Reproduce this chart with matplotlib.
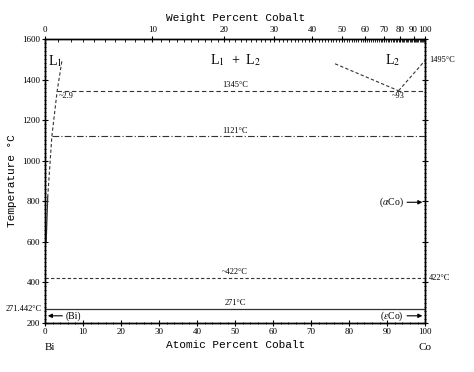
import numpy as np
import matplotlib
matplotlib.use('Agg')
import matplotlib.pyplot as plt
from matplotlib.ticker import MultipleLocator, FixedLocator

plt.rcParams['mathtext.fontset'] = 'stix'

# ---- Data (atomic % Co, temperature in C) ----
M_BI = 208.98
M_CO = 58.933

liq_l1_solid_x = [0.3, 0.7]
liq_l1_solid_t = [600, 820]
liq_l1_dash_x = [0.7, 1.8, 3.2, 4.5]
liq_l1_dash_t = [820, 1121, 1345, 1500]
gap_x = [76.3, 93.0]
gap_t = [1478, 1345]
liq_l2_x = [93.0, 100.0]
liq_l2_t = [1345, 1495]

monotectic_t = 1345
eutectic_t = 1121
co_trans_t = 422
bi_eut_t = 271

wt_ticks = [0, 10, 20, 30, 40, 50, 60, 70, 80, 90, 100]


def wt_to_at(w):
    w = np.asarray(w, dtype=float)
    a = w / M_CO
    b = (100 - w) / M_BI
    return 100 * a / (a + b)


fig = plt.figure(figsize=(4.74, 3.72), dpi=100)
ax = fig.add_axes([0.095, 0.132, 0.802, 0.763])
ax.set_xlim(0, 100)
ax.set_ylim(200, 1600)

mono = 'Liberation Mono'
serif = 'Liberation Serif'
lc = '#333333'

# phase boundaries
ax.plot(liq_l1_solid_x, liq_l1_solid_t, color=lc, lw=0.9)
ax.plot(liq_l1_dash_x, liq_l1_dash_t, color=lc, lw=0.8, ls=(0, (3, 2)))
ax.plot(gap_x, gap_t, color=lc, lw=0.8, ls=(0, (3, 2)))
ax.plot(liq_l2_x, liq_l2_t, color=lc, lw=0.8, ls=(0, (3, 2)))

ax.plot([3.2, 100], [monotectic_t] * 2, color=lc, lw=0.8, ls=(0, (4, 2.5)))
ax.plot([1.8, 100], [eutectic_t] * 2, color=lc, lw=0.8, ls=(0, (6, 2, 1, 2)))
ax.plot([0, 100], [co_trans_t] * 2, color=lc, lw=0.8, ls=(0, (3, 2)))
ax.plot([0, 100], [bi_eut_t] * 2, color=lc, lw=0.9)

# labels
fs = 6
ax.text(50, monotectic_t + 8, '1345\u00b0C', fontsize=fs, family=serif, ha='center', va='bottom')
ax.text(50, eutectic_t + 8, '1121\u00b0C', fontsize=fs, family=serif, ha='center', va='bottom')
ax.text(50, co_trans_t + 8, '~422\u00b0C', fontsize=fs, family=serif, ha='center', va='bottom')
ax.text(50, bi_eut_t + 8, '271\u00b0C', fontsize=fs, family=serif, ha='center', va='bottom')
ax.text(3.6, monotectic_t - 5, '~2.9', fontsize=fs, family=serif, ha='left', va='top')
ax.text(93, monotectic_t - 5, '~93', fontsize=fs, family=serif, ha='center', va='top')
ax.text(2.7, 1490, r'L$_1$', fontsize=10, family=serif, ha='center', va='center')
ax.text(50, 1495, r'L$_1$  +  L$_2$', fontsize=10, family=serif, ha='center', va='center')
ax.text(91.5, 1495, r'L$_2$', fontsize=10, family=serif, ha='center', va='center')

ax.text(101, 1495, '1495\u00b0C', fontsize=fs, family=serif, ha='left', va='center')
ax.text(101, co_trans_t, '422\u00b0C', fontsize=fs, family=serif, ha='left', va='center')
ax.text(-0.8, bi_eut_t, '271.442\u00b0C', fontsize=fs, family=serif, ha='right', va='center')

ax.annotate('', xy=(100, 795), xytext=(94.5, 795),
            arrowprops=dict(arrowstyle='-|>', color='black', lw=0.8, mutation_scale=6))
ax.text(94.3, 795, r'($\alpha$Co)', fontsize=7, family=serif, ha='right', va='center')
ax.annotate('', xy=(100, 235), xytext=(94.5, 235),
            arrowprops=dict(arrowstyle='-|>', color='black', lw=0.8, mutation_scale=6))
ax.text(94.3, 235, r'($\epsilon$Co)', fontsize=7, family=serif, ha='right', va='center')
ax.annotate('', xy=(0, 235), xytext=(5.3, 235),
            arrowprops=dict(arrowstyle='-|>', color='black', lw=0.8, mutation_scale=6))
ax.text(5.5, 235, '(Bi)', fontsize=7, family=serif, ha='left', va='center')

# ticks
ax.xaxis.set_major_locator(MultipleLocator(10))
ax.xaxis.set_minor_locator(MultipleLocator(2))
ax.yaxis.set_major_locator(MultipleLocator(200))
ax.yaxis.set_minor_locator(MultipleLocator(20))
ax.tick_params(axis='both', which='major', direction='inout', length=4, width=0.8,
               labelsize=6.5, pad=1.5)
ax.tick_params(axis='both', which='minor', direction='inout', length=2, width=0.6)
ax.tick_params(axis='y', which='both', right=True)
ax.tick_params(axis='y', which='both', labelright=False)
for lab in ax.get_xticklabels() + ax.get_yticklabels():
    lab.set_family(serif)

# top axis: weight percent
axt = ax.twiny()
axt.set_xlim(0, 100)
axt.xaxis.set_major_locator(FixedLocator(wt_to_at(wt_ticks)))
axt.xaxis.set_minor_locator(FixedLocator(wt_to_at(np.arange(0, 101, 1))))
axt.set_xticklabels([str(w) for w in wt_ticks], family=serif)
axt.tick_params(axis='x', which='major', direction='inout', length=4, width=0.8,
                labelsize=6.5, pad=1.5)
axt.tick_params(axis='x', which='minor', direction='in', length=2, width=0.6)

for a in (ax, axt):
    for s in a.spines.values():
        s.set_linewidth(1.0)

axt.set_xlabel('Weight Percent Cobalt', fontsize=8, family=mono, labelpad=4)
ax.set_xlabel('Atomic Percent Cobalt', fontsize=8, family=mono, labelpad=3)
ax.set_ylabel('Temperature \u00b0C', fontsize=8, family=mono, labelpad=4)

ax.text(0, -0.07, 'Bi', transform=ax.transAxes, fontsize=8, family=serif, ha='left', va='top')
ax.text(1, -0.07, 'Co', transform=ax.transAxes, fontsize=8, family=serif, ha='center', va='top')

fig.savefig('out.png', dpi=100)
